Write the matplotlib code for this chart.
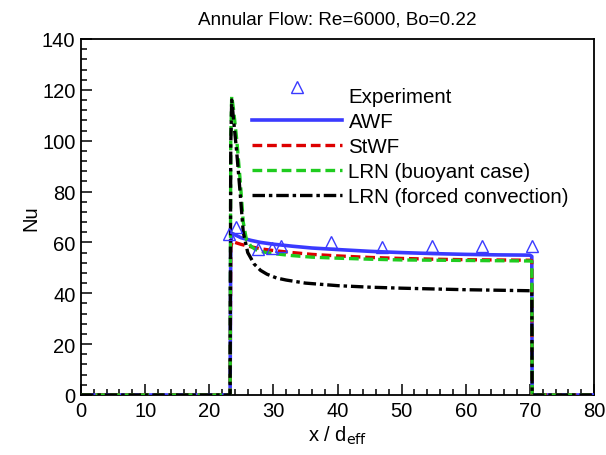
import matplotlib
matplotlib.use("Agg")
import matplotlib.pyplot as plt
from matplotlib.ticker import MultipleLocator
from matplotlib.legend_handler import HandlerLine2D

plt.rcParams['font.family'] = ['Liberation Sans', 'DejaVu Sans']
plt.rcParams['lines.scale_dashes'] = False

# Experiment
exp_x = [23.0, 24.2, 27.6, 29.8, 31.2, 39.0, 46.9, 54.7, 62.6, 70.3]
exp_y = [63.5, 66.0, 57.5, 58.0, 58.5, 60.3, 58.3, 58.6, 58.6, 58.4]

# AWF
awf_x = [0, 23.25, 23.35, 23.6, 24.0, 25.0, 26.5, 28.0, 30.0, 33.0, 36.0, 40.0, 45.0, 50.0, 55.0, 60.0, 65.0, 70.0, 70.3, 70.35, 80]
awf_y = [0, 0, 60.0, 63.5, 63.0, 61.8, 60.8, 60.0, 59.3, 58.5, 57.8, 57.2, 56.5, 56.0, 55.6, 55.3, 55.1, 55.0, 54.5, 0, 0]

# StWF
stwf_x = [0, 23.25, 23.35, 23.6, 24.0, 25.0, 26.5, 28.0, 30.0, 33.0, 36.0, 40.0, 45.0, 50.0, 55.0, 60.0, 65.0, 70.0, 70.3, 70.35, 80]
stwf_y = [0, 0, 58.0, 60.5, 60.0, 59.2, 58.3, 57.5, 56.8, 56.0, 55.3, 54.7, 54.1, 53.7, 53.4, 53.2, 53.1, 53.0, 52.8, 0, 0]

# LRN buoyant
lrnb_x = [0, 23.25, 23.35, 23.5, 23.8, 24.3, 24.8, 25.3, 25.8, 26.5, 27.2, 28.5, 30.0, 33.0, 36.0, 40.0, 45.0, 50.0, 55.0, 60.0, 65.0, 70.0, 70.3, 70.35, 80]
lrnb_y = [0, 0, 100.0, 117.5, 112.0, 100.0, 85.0, 68.0, 61.0, 58.5, 57.2, 56.2, 55.6, 54.8, 54.2, 53.8, 53.4, 53.1, 53.0, 52.9, 52.8, 52.7, 52.5, 0, 0]

# LRN forced convection
lrnf_x = [0, 23.25, 23.35, 23.5, 23.8, 24.3, 24.8, 25.3, 26.0, 27.0, 28.0, 29.0, 30.5, 32.0, 35.0, 40.0, 45.0, 50.0, 55.0, 60.0, 65.0, 70.0, 70.3, 70.35, 80]
lrnf_y = [0, 0, 98.0, 116.0, 108.0, 95.0, 80.0, 64.0, 56.0, 51.5, 49.0, 47.5, 46.0, 45.2, 44.0, 43.0, 42.4, 42.0, 41.7, 41.4, 41.2, 41.0, 41.0, 0, 0]

blue = '#3a3aff'
red = '#dd0000'
green = '#1fcc1f'


class RaisedMarkerHandler(HandlerLine2D):
    def create_artists(self, legend, orig_handle, xdescent, ydescent, width, height,
                       fontsize, trans):
        arts = super().create_artists(legend, orig_handle, xdescent, ydescent, width,
                                      height, fontsize, trans)
        for a in arts:
            a.set_ydata([y + 0.38 * fontsize for y in a.get_ydata()])
        return arts


fig = plt.figure(figsize=(6.06, 4.56), dpi=100)
ax = fig.add_axes([0.1337, 0.1316, 0.8465, 0.7807])

ax.plot(awf_x, awf_y, color=blue, lw=2.6, solid_joinstyle='round', label='AWF', zorder=3)
ax.plot(stwf_x, stwf_y, color=red, lw=2.4, dashes=(7, 3.5), label='StWF', zorder=4)
ax.plot(lrnb_x, lrnb_y, color=green, lw=2.4, dashes=(7, 3.5), label='LRN (buoyant case)', zorder=5)
ax.plot(lrnf_x, lrnf_y, color='black', lw=2.4, dashes=(9, 2.8, 2.5, 2.8), label='LRN (forced convection)', zorder=6)
exp_line, = ax.plot(exp_x, exp_y, linestyle='none', marker='^', markersize=8, markerfacecolor='none',
                    markeredgecolor=blue, markeredgewidth=1.0, label='Experiment', zorder=7)

ax.set_xlim(0, 80)
ax.set_ylim(0, 140)
ax.xaxis.set_major_locator(MultipleLocator(10))
ax.xaxis.set_minor_locator(MultipleLocator(2))
ax.yaxis.set_major_locator(MultipleLocator(20))
ax.yaxis.set_minor_locator(MultipleLocator(4))
ax.tick_params(which='both', direction='in', top=False, right=False, labelsize=14.5, width=1.1)
ax.tick_params(which='major', length=8, pad=4)
ax.tick_params(which='minor', length=4.5)
for s in ax.spines.values():
    s.set_linewidth(1.3)

ax.set_title('Annular Flow: Re=6000, Bo=0.22', fontsize=13.6, pad=11)
ax.set_xlabel(r'x / d$_{\rm eff}$', fontsize=14.5, labelpad=3)
ax.set_ylabel('Nu', fontsize=14.5, labelpad=1)

h, l = ax.get_legend_handles_labels()
order = [4, 0, 1, 2, 3]
leg = ax.legend([h[i] for i in order], [l[i] for i in order], loc='upper left',
                bbox_to_anchor=(0.333, 0.866), frameon=False, fontsize=14.8,
                handlelength=4.4, handletextpad=0.3, borderpad=0, borderaxespad=0,
                labelspacing=0.3, handler_map={exp_line: RaisedMarkerHandler()})

fig.savefig('out.png', dpi=100)
